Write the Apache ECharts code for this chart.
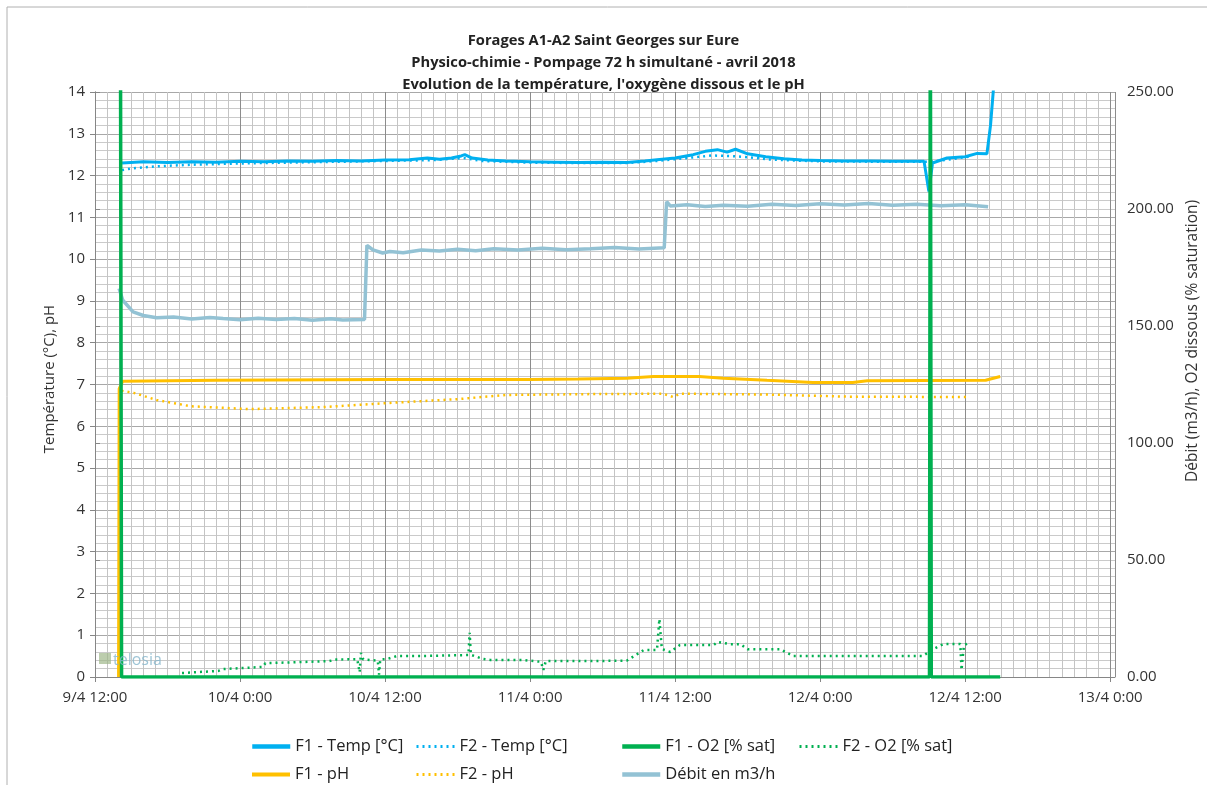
<!DOCTYPE html>
<html>
<head>
    <meta charset="UTF-8">
    <title>Forages A1-A2 Saint Georges sur Eure</title>
    <script src="https://cdn.jsdelivr.net/npm/echarts@6/dist/echarts.min.js"></script>
    <style>
        body { margin: 0; background: #fff; }
        #main { width: 1207px; height: 785px; }
    </style>
</head>
<body>
<div id="main"></div>
<script>
    // heures depuis le 9/4 12:00
    var xTickLabels = ['9/4 12:00', '10/4 0:00', '10/4 12:00', '11/4 0:00', '11/4 12:00', '12/4 0:00', '12/4 12:00', '13/4 0:00'];

    // [heure, valeur]
    var f1Temp = [[2.24, 12.30], [4, 12.33], [6, 12.31], [8, 12.33], [10, 12.32], [12, 12.34], [14, 12.33], [16, 12.35],
        [18, 12.34], [20, 12.36], [22, 12.35], [24, 12.37], [26, 12.38], [27.5, 12.42], [28.5, 12.39], [29.5, 12.42],
        [30.3, 12.47], [30.6, 12.50], [31.2, 12.42], [32.5, 12.37], [34, 12.35], [36, 12.33], [38, 12.32], [40, 12.31],
        [42, 12.32], [44, 12.31], [45.5, 12.35], [46.5, 12.38], [48, 12.42], [49.5, 12.50], [50.5, 12.58], [51.5, 12.62],
        [52.3, 12.56], [53, 12.63], [54, 12.52], [55.5, 12.45], [57, 12.40], [58.5, 12.37], [60, 12.36], [62, 12.35],
        [64, 12.35], [66, 12.34], [68.6, 12.34], [69.0, 11.62], [69.3, 12.30], [70.5, 12.42], [72, 12.45], [73, 12.53],
        [73.8, 12.52], [74.1, 13.2], [74.6, 15]];
    var f2Temp = [[2.24, 12.13], [3, 12.17], [5, 12.22], [8, 12.26], [12, 12.29], [16, 12.31], [20, 12.33], [24, 12.35],
        [28, 12.37], [30.5, 12.42], [32, 12.35], [36, 12.31], [40, 12.30], [44, 12.30], [46.5, 12.35], [49, 12.42],
        [51, 12.48], [52.5, 12.47], [54, 12.44], [56, 12.38], [60, 12.34], [66, 12.33], [69, 12.33], [70.5, 12.38], [72.3, 12.45]];
    var f1O2 = [[2.1, 300], [2.2, 0], [69.05, 0], [69.12, 300], [69.2, 0], [74.9, 0]];
    var f2O2 = [[7.2, 1.7], [10.2, 2.6], [10.6, 3.4], [13.9, 4.3], [14.1, 5.9], [19.4, 6.8], [20.0, 7.5], [21.7, 7.6],
        [21.9, 2], [22.0, 10.3], [22.2, 7.5], [23.4, 7], [23.5, 1], [23.6, 7.5], [24.2, 7.7], [25, 9], [27.2, 9],
        [29, 9.2], [30.9, 9.4], [31.0, 18.9], [31.1, 9.5], [32.1, 7.7], [32.7, 7.3], [35.4, 7.3], [36.9, 6.5], [37.1, 3],
        [37.3, 6.8], [38.3, 6.8], [41, 6.8], [44, 7.0], [45.4, 11.5], [46.5, 11.5], [46.7, 24.8], [46.9, 12], [47.6, 10.7],
        [48.4, 13.7], [51.2, 13.7], [51.5, 15], [52.6, 14], [53.4, 14], [54, 11.9], [56.7, 11.9], [57.3, 10.2], [57.8, 9],
        [68.5, 9], [69.4, 12], [70.2, 14.1], [71.6, 14.1], [71.7, 3], [71.9, 13.5], [72.4, 14.9]];
    var f1Ph = [[1.95, 0], [2.0, 6.9], [2.3, 7.08], [10, 7.10], [24, 7.12], [36, 7.12], [40, 7.13], [44, 7.15],
        [46.2, 7.19], [50, 7.19], [52, 7.15], [55.6, 7.10], [59.4, 7.05], [62.7, 7.05], [63.9, 7.09], [73.7, 7.10], [74.9, 7.19]];
    var f2Ph = [[2.2, 6.85], [3.2, 6.80], [5.1, 6.63], [7.9, 6.48], [12.8, 6.41], [18.9, 6.46], [24.4, 6.56], [30, 6.65],
        [34.1, 6.75], [41, 6.77], [47, 6.78], [47.85, 6.70], [48.4, 6.78], [55.6, 6.76], [62.2, 6.71], [72.3, 6.70]];
    var debit = [[1.99, 166], [2.3, 161], [3.15, 156], [4, 154.5], [5.1, 153.5], [6.5, 153.8], [8, 153], [9.5, 153.6],
        [10.6, 153.2], [12, 152.7], [13.5, 153.3], [15, 152.8], [16.5, 153.2], [18, 152.5], [19.5, 153.1], [20.5, 152.6],
        [22.3, 152.8], [22.5, 184.5], [23, 182.5], [23.8, 181.2], [24.4, 181.8], [25.5, 181.3], [27, 182.5], [28.5, 182.1],
        [30, 182.8], [31.5, 182.2], [33, 183], [35, 182.5], [37, 183.2], [39, 182.6], [41, 183], [43, 183.5], [45, 182.9],
        [47.1, 183.4], [47.3, 203.1], [47.6, 201.3], [49, 201.8], [50.5, 201.1], [52, 201.6], [54, 201.2], [56, 202],
        [58, 201.5], [60, 202.2], [62, 201.7], [64, 202.3], [66, 201.6], [68, 202], [70, 201.4], [72, 201.8], [73.9, 201]];

    var myChart = echarts.init(document.getElementById('main'));
    var font = '"Open Sans", sans-serif';

    function legendAt(name, left, top, w) {
        return {
            data: [name], left: left, top: top,
            itemWidth: 38, itemHeight: 14, itemGap: 0,
            itemStyle: { opacity: 0 },
            lineStyle: { width: w },
            textStyle: { fontFamily: font, fontSize: 16.5, color: '#222' }
        };
    }

    var option = {
        animation: false,
        textStyle: { fontFamily: font },
        title: {
            text: 'Forages A1-A2 Saint Georges sur Eure\nPhysico-chimie - Pompage 72 h simultané - avril 2018\nEvolution de la température, l\'oxygène dissous et le pH',
            left: 'center', top: 25,
            textStyle: { fontFamily: font, fontSize: 14.7, fontWeight: 'bold', color: '#222', lineHeight: 22 }
        },
        legend: [
            legendAt('F1 - Temp [°C]', 245, 733, 4.5),
            legendAt('F2 - Temp [°C]', 410, 733, 3),
            legendAt('F1 - O2 [% sat]', 615, 733, 4.5),
            legendAt('F2 - O2 [% sat]', 793, 733, 3),
            legendAt('F1 - pH', 245, 761, 4),
            legendAt('F2 - pH', 410, 761, 3),
            legendAt('Débit en m3/h', 615, 761, 4.5)
        ],
        grid: { left: 95, right: 92, top: 92, bottom: 108 },
        xAxis: [
            {
                // grille horaire
                type: 'value', min: 0, max: 84.4, interval: 1, position: 'top',
                axisLine: { show: false }, axisTick: { show: false }, axisLabel: { show: false },
                splitLine: { show: true, lineStyle: { color: '#c4c4c4', width: 1 } }
            },
            {
                type: 'value', min: 0, max: 84.4, interval: 12, position: 'bottom',
                axisLine: { lineStyle: { color: '#868686' } },
                axisTick: { show: true, length: 5, lineStyle: { color: '#868686' } },
                axisLabel: {
                    fontSize: 15, color: '#333', margin: 13, showMaxLabel: false,
                    formatter: function (v) {
                        var i = Math.round(v / 12);
                        return Math.abs(v - i * 12) < 0.01 ? xTickLabels[i] : '';
                    }
                },
                splitLine: { show: true, lineStyle: { color: '#8c8c8c', width: 1 } }
            }
        ],
        yAxis: [
            {
                type: 'value', min: 0, max: 14, interval: 1,
                axisLine: { show: true, lineStyle: { color: '#868686' } },
                axisTick: { show: true, length: 5, lineStyle: { color: '#868686' } },
                axisLabel: { fontSize: 15, color: '#333', margin: 10 },
                splitLine: { show: true, lineStyle: { color: '#a8a8a8' } },
                minorTick: { show: false, splitNumber: 5 },
                minorSplitLine: { show: true, lineStyle: { color: '#cacaca' } }
            },
            {
                type: 'value', min: 0, max: 250, interval: 50, position: 'right',
                axisLine: { show: true, lineStyle: { color: '#868686' } },
                axisTick: { show: true, length: 5, lineStyle: { color: '#868686' } },
                axisLabel: { fontSize: 15, color: '#333', margin: 12, formatter: function (v) { return v.toFixed(2); } },
                splitLine: { show: false }
            }
        ],
        graphic: [
            { type: 'rect', silent: true, shape: { x: 7, y: 7, width: 1300, height: 900 },
              style: { fill: 'none', stroke: '#b0b0b0', lineWidth: 1 } },
            { type: 'text', x: 50, y: 379, rotation: Math.PI / 2,
              style: { text: 'Température (°C), pH', font: '15px "Open Sans"', fill: '#333', align: 'center', verticalAlign: 'middle' } },
            { type: 'text', x: 1193, y: 341, rotation: Math.PI / 2,
              style: { text: 'Débit (m3/h), O2 dissous (% saturation)', font: '15.5px "Open Sans"', fill: '#333', align: 'center', verticalAlign: 'middle' } },
            { type: 'rect', z: 10, shape: { x: 99, y: 653, width: 12, height: 11 }, style: { fill: '#9fb88a', opacity: 0.7 } },
            { type: 'text', z: 10, x: 113, y: 660,
              style: { text: 'telosia', font: '16px "Open Sans"', fill: '#86b6cc', opacity: 0.8, verticalAlign: 'middle' } }
        ],
        series: [
            { name: 'F1 - Temp [°C]', type: 'line', xAxisIndex: 1, yAxisIndex: 0, data: f1Temp, symbol: 'none',
              lineStyle: { color: '#00b0f0', width: 3 }, itemStyle: { color: '#00b0f0' } },
            { name: 'F2 - Temp [°C]', type: 'line', xAxisIndex: 1, yAxisIndex: 0, data: f2Temp, symbol: 'none',
              lineStyle: { color: '#00b0f0', width: 2.5, type: [2, 4] }, itemStyle: { color: '#00b0f0' } },
            { name: 'F1 - pH', type: 'line', xAxisIndex: 1, yAxisIndex: 0, data: f1Ph, symbol: 'none',
              lineStyle: { color: '#ffc000', width: 3 }, itemStyle: { color: '#ffc000' } },
            { name: 'F2 - pH', type: 'line', xAxisIndex: 1, yAxisIndex: 0, data: f2Ph, symbol: 'none',
              lineStyle: { color: '#ffc000', width: 2.5, type: [2, 4] }, itemStyle: { color: '#ffc000' } },
            { name: 'Débit en m3/h', type: 'line', xAxisIndex: 1, yAxisIndex: 1, data: debit, symbol: 'none',
              lineStyle: { color: '#93c2d4', width: 3.5 }, itemStyle: { color: '#93c2d4' } },
            { name: 'F2 - O2 [% sat]', type: 'line', xAxisIndex: 1, yAxisIndex: 1, data: f2O2, symbol: 'none',
              lineStyle: { color: '#00b050', width: 2.5, type: [2, 4] }, itemStyle: { color: '#00b050' } },
            { name: 'F1 - O2 [% sat]', type: 'line', xAxisIndex: 1, yAxisIndex: 1, data: f1O2, symbol: 'none',
              lineStyle: { color: '#00b050', width: 3.5 }, itemStyle: { color: '#00b050' } }
        ]
    };

    myChart.setOption(option);
</script>
</body>
</html>
